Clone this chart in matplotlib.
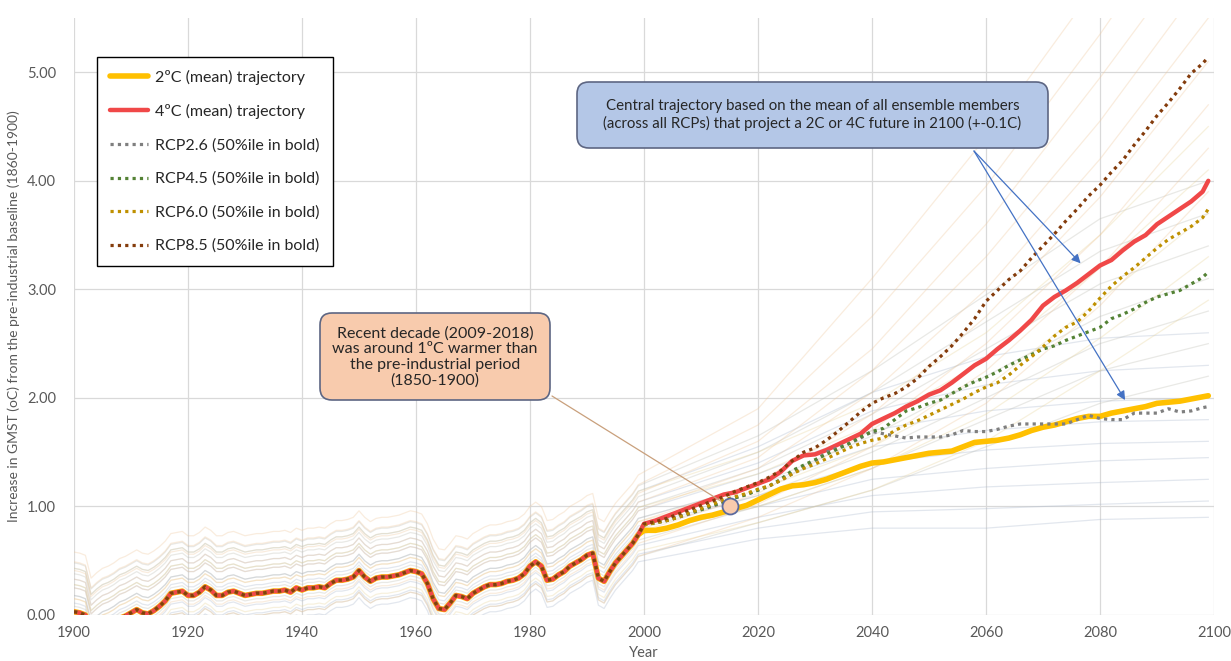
import matplotlib
matplotlib.use('Agg')
import matplotlib.pyplot as plt
from matplotlib.patches import FancyBboxPatch

plt.rcParams['font.family'] = ['Lato', 'DejaVu Sans']

# ---------------- data ----------------
hist_years = list(range(1900, 2000))
hist_mean = [0.03, 0.02, 0.00, -0.21, -0.16, -0.12, -0.10, -0.07, -0.03, -0.01,
             0.02, 0.05, 0.02, 0.01, 0.04, 0.08, 0.13, 0.20, 0.21, 0.22,
             0.18, 0.18, 0.21, 0.26, 0.23, 0.18, 0.18, 0.21, 0.22, 0.20,
             0.18, 0.19, 0.20, 0.20, 0.21, 0.22, 0.22, 0.23, 0.21, 0.25,
             0.23, 0.25, 0.25, 0.26, 0.25, 0.29, 0.32, 0.32, 0.33, 0.35,
             0.41, 0.35, 0.31, 0.34, 0.35, 0.35, 0.36, 0.37, 0.39, 0.41,
             0.40, 0.38, 0.29, 0.15, 0.06, 0.05, 0.11, 0.18, 0.17, 0.15,
             0.20, 0.23, 0.26, 0.28, 0.28, 0.29, 0.31, 0.32, 0.34, 0.38,
             0.45, 0.49, 0.45, 0.32, 0.33, 0.37, 0.40, 0.45, 0.48, 0.51,
             0.55, 0.57, 0.34, 0.31, 0.40, 0.48, 0.54, 0.60, 0.66, 0.74]

fut_years = list(range(2000, 2099, 2)) + [2099]

traj_2c = [0.78, 0.78, 0.80, 0.83, 0.87, 0.90, 0.92, 0.95, 0.98, 1.01,
           1.06, 1.11, 1.16, 1.19, 1.20, 1.22, 1.25, 1.29, 1.33, 1.37,
           1.40, 1.41, 1.43, 1.45, 1.47, 1.49, 1.50, 1.51, 1.55, 1.59,
           1.60, 1.61, 1.63, 1.66, 1.70, 1.73, 1.75, 1.78, 1.81, 1.83,
           1.83, 1.86, 1.88, 1.90, 1.92, 1.95, 1.96, 1.97, 1.99, 2.01, 2.02]
traj_4c = [0.84, 0.87, 0.91, 0.95, 0.99, 1.03, 1.07, 1.11, 1.13, 1.17,
           1.21, 1.25, 1.32, 1.42, 1.47, 1.48, 1.52, 1.57, 1.62, 1.67,
           1.76, 1.81, 1.86, 1.92, 1.97, 2.03, 2.07, 2.14, 2.22, 2.30,
           2.36, 2.45, 2.53, 2.62, 2.72, 2.85, 2.93, 2.99, 3.06, 3.14,
           3.22, 3.27, 3.36, 3.44, 3.50, 3.60, 3.67, 3.74, 3.81, 3.90, 4.00]
rcp26 = [0.83, 0.85, 0.87, 0.90, 0.93, 0.97, 1.00, 1.04, 1.08, 1.11,
         1.15, 1.19, 1.24, 1.30, 1.36, 1.42, 1.50, 1.54, 1.58, 1.63,
         1.69, 1.67, 1.65, 1.63, 1.64, 1.64, 1.64, 1.66, 1.70, 1.69,
         1.69, 1.71, 1.74, 1.76, 1.76, 1.76, 1.76, 1.76, 1.80, 1.84,
         1.81, 1.80, 1.80, 1.86, 1.86, 1.86, 1.90, 1.87, 1.88, 1.91, 1.92]
rcp45 = [0.83, 0.85, 0.87, 0.90, 0.94, 0.97, 1.01, 1.04, 1.08, 1.11,
         1.15, 1.19, 1.25, 1.33, 1.38, 1.43, 1.48, 1.53, 1.58, 1.64,
         1.69, 1.72, 1.80, 1.88, 1.91, 1.95, 1.98, 2.04, 2.10, 2.15,
         2.19, 2.24, 2.30, 2.35, 2.40, 2.45, 2.48, 2.53, 2.57, 2.61,
         2.65, 2.73, 2.77, 2.82, 2.88, 2.93, 2.96, 2.99, 3.05, 3.11, 3.16]
rcp60 = [0.83, 0.85, 0.87, 0.90, 0.94, 0.98, 1.02, 1.06, 1.09, 1.12,
         1.16, 1.19, 1.24, 1.30, 1.35, 1.39, 1.44, 1.49, 1.54, 1.58,
         1.61, 1.63, 1.70, 1.75, 1.79, 1.84, 1.89, 1.94, 1.99, 2.05,
         2.10, 2.14, 2.21, 2.30, 2.38, 2.47, 2.57, 2.65, 2.70, 2.80,
         2.92, 3.03, 3.12, 3.20, 3.29, 3.38, 3.46, 3.52, 3.58, 3.66, 3.74]
rcp85 = [0.84, 0.86, 0.89, 0.93, 0.97, 1.01, 1.05, 1.09, 1.14, 1.18,
         1.22, 1.27, 1.33, 1.42, 1.50, 1.54, 1.61, 1.69, 1.78, 1.87,
         1.95, 2.00, 2.04, 2.10, 2.18, 2.29, 2.38, 2.48, 2.60, 2.73,
         2.89, 2.99, 3.09, 3.17, 3.29, 3.40, 3.51, 3.63, 3.74, 3.86,
         3.96, 4.08, 4.19, 4.33, 4.46, 4.60, 4.72, 4.85, 4.99, 5.08, 5.14]

# background ensemble members: historical shift from the central curve,
# then values at member_years
member_years = [2020, 2040, 2060, 2080, 2099]
ens26_shift = [-0.25, -0.18, -0.10, 0.00, 0.08, 0.15, 0.22, 0.30, 0.40]
ens26 = [[0.70, 0.80, 0.80, 0.88, 0.90], [0.80, 0.95, 0.98, 1.02, 1.05],
         [0.90, 1.10, 1.18, 1.22, 1.25], [1.00, 1.25, 1.35, 1.42, 1.45],
         [1.10, 1.40, 1.52, 1.58, 1.60], [1.20, 1.55, 1.70, 1.78, 1.80],
         [1.30, 1.70, 1.88, 1.97, 2.00], [1.40, 1.88, 2.12, 2.25, 2.30],
         [1.55, 2.05, 2.38, 2.55, 2.60]]
ens45_shift = [-0.20, -0.05, 0.05, 0.15, 0.25, 0.35, 0.45]
ens45 = [[0.85, 1.15, 1.55, 1.95, 2.20], [1.00, 1.35, 1.80, 2.25, 2.50],
         [1.10, 1.50, 2.00, 2.50, 2.80], [1.20, 1.65, 2.20, 2.75, 3.10],
         [1.35, 1.85, 2.45, 3.05, 3.40], [1.50, 2.05, 2.70, 3.35, 3.70],
         [1.65, 2.25, 2.95, 3.65, 4.00]]
ens60_shift = [-0.15, 0.00, 0.12, 0.25, 0.40]
ens60 = [[0.85, 1.15, 1.60, 2.25, 2.90], [1.00, 1.35, 1.85, 2.55, 3.30],
         [1.15, 1.55, 2.10, 2.90, 3.70], [1.30, 1.75, 2.35, 3.20, 4.10],
         [1.50, 1.95, 2.60, 3.50, 4.50]]
ens85_shift = [-0.20, -0.08, 0.02, 0.12, 0.22, 0.30, 0.38, 0.46, 0.55]
ens85 = [[0.90, 1.35, 1.95, 2.85, 3.90], [1.02, 1.55, 2.25, 3.20, 4.30],
         [1.12, 1.70, 2.50, 3.50, 4.70], [1.22, 1.85, 2.75, 3.85, 5.10],
         [1.35, 2.05, 3.00, 4.20, 5.50], [1.45, 2.25, 3.30, 4.55, 5.90],
         [1.60, 2.45, 3.60, 4.95, 6.30], [1.75, 2.75, 3.95, 5.35, 6.80],
         [1.90, 3.10, 4.40, 5.85, 7.30]]

series_labels = ['2ºC (mean) trajectory', '4ºC (mean) trajectory',
                 'RCP2.6 (50%ile in bold)', 'RCP4.5 (50%ile in bold)',
                 'RCP6.0 (50%ile in bold)', 'RCP8.5 (50%ile in bold)']
x_ticks = list(range(1900, 2101, 20))
y_ticks = [0, 1, 2, 3, 4, 5]
circle_year, circle_value = 2015, 1.0

# ---------------- figure ----------------
W, H = 1231, 661
fig = plt.figure(figsize=(W / 100, H / 100), dpi=100)
ax = fig.add_axes([74 / W, 1 - 615 / H, 1140 / W, 597 / H])
ax.set_xlim(1900, 2100)
ax.set_ylim(0, 5.5)

# ensemble background
ens_groups = [(ens26_shift, ens26, '#a9b7cc'), (ens45_shift, ens45, '#bdbdb3'),
              (ens60_shift, ens60, '#e8d49a'), (ens85_shift, ens85, '#efc79b')]
for shifts, vals, col in ens_groups:
    for s, v in zip(shifts, vals):
        ys = [h + s for h in hist_mean] + v
        ax.plot(hist_years + member_years, ys, color=col, lw=0.9, alpha=0.33,
                zorder=1)

full_years = hist_years + fut_years
ax.plot(full_years, hist_mean + traj_2c, color='#FFC000', lw=4.0,
        solid_capstyle='round', label=series_labels[0], zorder=3)
ax.plot(full_years, hist_mean + traj_4c, color='#F04848', lw=3.2,
        solid_capstyle='round', label=series_labels[1], zorder=3)
dot = (0, (1, 1.3))
ax.plot(full_years, hist_mean + rcp26, color='#7f7f7f', lw=2.3, ls=dot,
        label=series_labels[2], zorder=4)
ax.plot(full_years, hist_mean + rcp45, color='#548235', lw=2.3, ls=dot,
        label=series_labels[3], zorder=4)
ax.plot(full_years, hist_mean + rcp60, color='#BF9000', lw=2.3, ls=dot,
        label=series_labels[4], zorder=4)
ax.plot(full_years, hist_mean + rcp85, color='#843C0C', lw=2.3, ls=dot,
        label=series_labels[5], zorder=5)

# axes styling
for sp in ax.spines.values():
    sp.set_visible(False)
ax.set_xticks(x_ticks)
ax.set_yticks(y_ticks)
ax.set_yticklabels([f'{v:.2f}' for v in y_ticks])
ax.grid(True, color='#d9d9d9', lw=0.9, zorder=0)
ax.set_axisbelow(True)
ax.tick_params(length=0, labelsize=10.5, labelcolor='#595959')
ax.tick_params(axis='y', pad=13)
ax.tick_params(axis='x', pad=8)
ax.set_xlabel('Year', fontsize=10.5, color='#595959')
ax.xaxis.set_label_coords(0.5, -0.052)
ax.set_ylabel('Increase in GMST (oC) from the pre-industrial baseline (1860-1900)',
              fontsize=10, color='#595959')
ax.yaxis.set_label_coords(-0.047, 0.5)

# legend
leg = ax.legend(loc='upper left', bbox_to_anchor=(97 / W, 1 - 57 / H),
                bbox_transform=fig.transFigure, fontsize=11.5, frameon=True,
                fancybox=False, edgecolor='black', framealpha=1,
                handlelength=2.4, handletextpad=0.45, labelspacing=1.2,
                borderpad=0.8, borderaxespad=0)
leg.get_frame().set_linewidth(1.0)
for t in leg.get_texts():
    t.set_color('#262626')

# orange callout
ax.annotate('', xy=(circle_year, circle_value), xycoords='data',
            xytext=(552, H - 396), textcoords='figure pixels',
            arrowprops=dict(arrowstyle='-', color='#c9a07c', lw=0.9,
                            shrinkA=0, shrinkB=7), zorder=6)
ax.plot([circle_year], [circle_value], marker='o', ms=11.5, mfc='#F8CBAD',
        mec='#5b6a9e', mew=1.3, zorder=7)
box1 = FancyBboxPatch((3.20, (H - 400) / 100), 2.30, 0.87,
                      boxstyle='round,pad=0,rounding_size=0.12',
                      transform=fig.dpi_scale_trans, fc='#F8CBAD',
                      ec='#5d6683', lw=1.2, zorder=10)
fig.patches.append(box1)
fig.text(4.35 / (W / 100), (H - 357) / H,
         'Recent decade (2009-2018)\nwas around 1ºC warmer than\nthe pre-industrial period\n(1850-1900)',
         ha='center', va='center', fontsize=11.5, color='#262626',
         linespacing=1.12, zorder=11)

# blue callout
for tip in [(2076.6, 3.24), (2084.4, 1.98)]:
    ax.annotate('', xy=tip, xycoords='data', xytext=(974, H - 151),
                textcoords='figure pixels',
                arrowprops=dict(arrowstyle='-|>', color='#4472C4', lw=0.9,
                                mutation_scale=13, shrinkA=0, shrinkB=0),
                zorder=8)
box2 = FancyBboxPatch((5.77, (H - 148) / 100), 4.71, 0.66,
                      boxstyle='round,pad=0,rounding_size=0.12',
                      transform=fig.dpi_scale_trans, fc='#B4C7E7',
                      ec='#5d6683', lw=1.2, zorder=10)
fig.patches.append(box2)
fig.text(812.5 / W, (H - 115) / H,
         'Central trajectory based on the mean of all ensemble members\n(across all RCPs) that project a 2C or 4C future in 2100 (+-0.1C)',
         ha='center', va='center', fontsize=10.8, color='#262626',
         linespacing=1.25, zorder=11)

fig.savefig('out.png', dpi=100)
